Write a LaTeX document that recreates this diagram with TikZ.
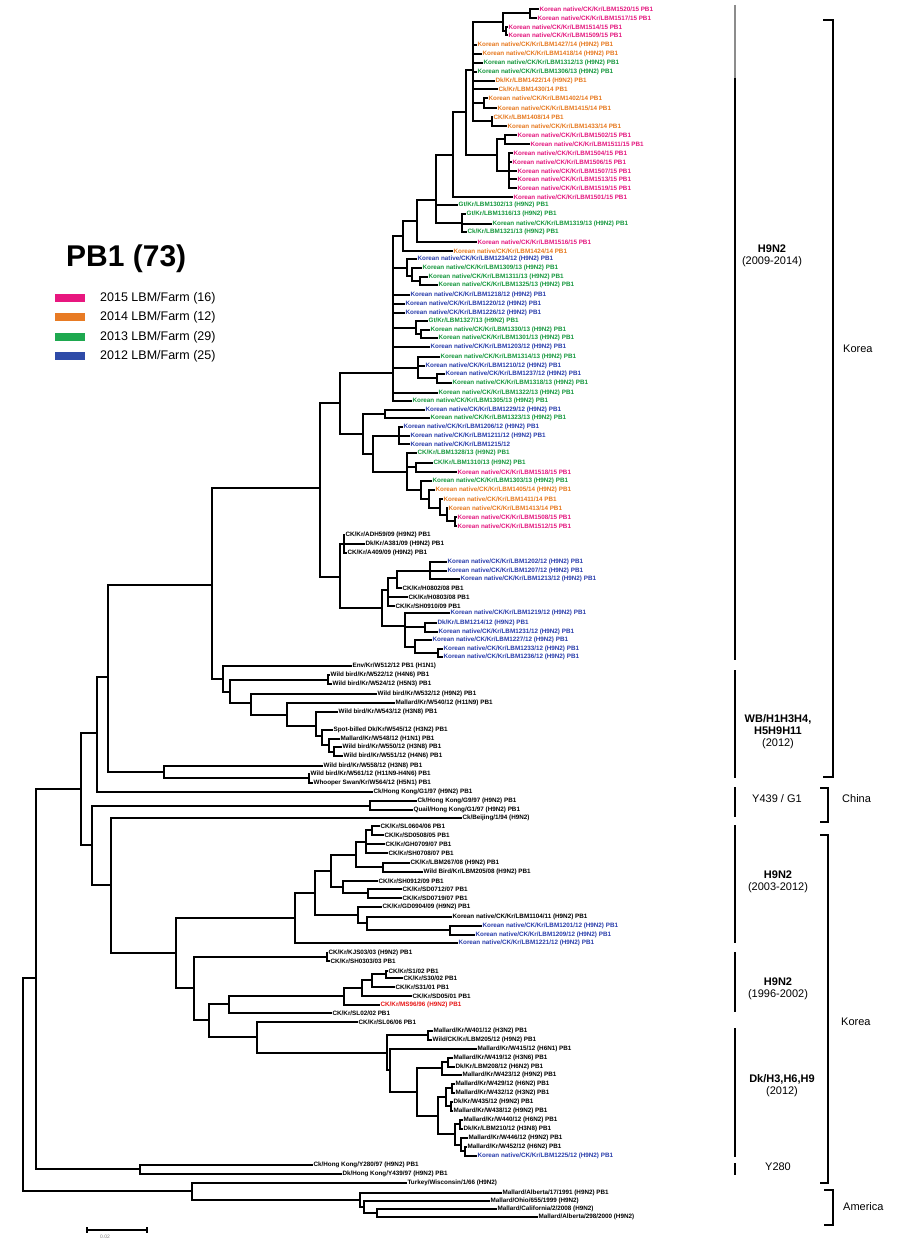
\documentclass[tikz,border=0pt]{standalone}
\usepackage{fontspec}
\setmainfont{Liberation Sans}
\definecolor{pk}{HTML}{E3177E}
\definecolor{or}{HTML}{E6781E}
\definecolor{gn}{HTML}{14963C}
\definecolor{bl}{HTML}{283CAA}
\definecolor{rd}{HTML}{E61414}
\definecolor{k}{HTML}{000000}
\definecolor{lpk}{HTML}{E8177F}
\definecolor{lor}{HTML}{E87B24}
\definecolor{lgn}{HTML}{1EA84F}
\definecolor{lbl}{HTML}{2E4BA8}
\tikzset{
  br/.style={line width=1.7pt},
  leaf/.style={anchor=west, inner sep=0.4pt, font=\fontsize{6.3}{6.5}\selectfont\bfseries},
  bar/.style={line width=1.6pt},
  brk/.style={line width=1.4pt},
  cladetxt/.style={align=center, font=\fontsize{11}{12}\selectfont, inner sep=0},
  regtxt/.style={anchor=west, font=\fontsize{11}{12}\selectfont, inner sep=0},
  lgbox/.style={minimum width=30pt, minimum height=8pt, inner sep=0, draw=none},
  lgtxt/.style={anchor=west, font=\fontsize{12.5}{13}\selectfont, inner sep=0},
}
\newcommand\lf[4]{\node[leaf,text=#3] (l#2) at (#1,#2) {#4};}
\newcommand\nd[3]{\coordinate (#1) at (#2,#3);}
\newcommand\cl[2]{\foreach \cc in {#2}{\draw[br] (#1) |- (\cc);}}
\newcommand\KN[2]{Korean native/CK/Kr/LBM#1/#2 (H9N2) PB1}
\newcommand\KP[1]{Korean native/CK/Kr/LBM#1/15 PB1}
\begin{document}
\begin{tikzpicture}[x=1pt,y=-1pt]
\useasboundingbox (0,0) rectangle (909,1249);
% ---------------- legend
\node[anchor=west,font=\fontsize{30}{32}\selectfont\bfseries,inner sep=0] (title) at (66,259) {PB1 (73)};
\node[lgbox,fill=lpk] (b15) at (70,298) {};
\node[lgbox,fill=lor] (b14) at (70,317) {};
\node[lgbox,fill=lgn] (b13) at (70,337) {};
\node[lgbox,fill=lbl] (b12) at (70,356) {};
\node[lgtxt] (t15) at (100,298) {2015 LBM/Farm (16)};
\node[lgtxt] (t14) at (100,317) {2014 LBM/Farm (12)};
\node[lgtxt] (t13) at (100,337) {2013 LBM/Farm (29)};
\node[lgtxt] (t12) at (100,356) {2012 LBM/Farm (25)};
% ---------------- leaves
\lf{539}{9}{pk}{\KP{1520}}
\lf{537}{18}{pk}{\KP{1517}}
\lf{508}{27}{pk}{\KP{1514}}
\lf{508}{35}{pk}{\KP{1509}}
\lf{477}{45}{or}{\KN{1427}{14}}
\lf{482}{54}{or}{\KN{1418}{14}}
\lf{483}{63}{gn}{\KN{1312}{13}}
\lf{477}{72}{gn}{\KN{1306}{13}}
\lf{495}{81}{or}{Dk/Kr/LBM1422/14 (H9N2) PB1}
\lf{498}{89}{or}{Ck/Kr/LBM1430/14 PB1}
\lf{488}{98}{or}{Korean native/CK/Kr/LBM1402/14 PB1}
\lf{497}{108}{or}{Korean native/CK/Kr/LBM1415/14 PB1}
\lf{493}{117}{or}{CK/Kr/LBM1408/14 PB1}
\lf{507}{126}{or}{Korean native/CK/Kr/LBM1433/14 PB1}
\lf{517}{135}{pk}{\KP{1502}}
\lf{530}{144}{pk}{\KP{1511}}
\lf{513}{153}{pk}{\KP{1504}}
\lf{512}{162}{pk}{\KP{1506}}
\lf{517}{171}{pk}{\KP{1507}}
\lf{517}{179}{pk}{\KP{1513}}
\lf{517}{188}{pk}{\KP{1519}}
\lf{513}{197}{pk}{\KP{1501}}
\lf{458}{205}{gn}{Gt/Kr/LBM1302/13 (H9N2) PB1}
\lf{466}{214}{gn}{Gt/Kr/LBM1316/13 (H9N2) PB1}
\lf{492}{224}{gn}{\KN{1319}{13}}
\lf{467}{232}{gn}{Ck/Kr/LBM1321/13 (H9N2) PB1}
\lf{477}{242}{pk}{Korean native/CK/Kr/LBM1516/15 PB1}
\lf{453}{251}{or}{Korean native/CK/Kr/LBM1424/14 PB1}
\lf{417}{259}{bl}{\KN{1234}{12}}
\lf{422}{268}{gn}{\KN{1309}{13}}
\lf{428}{277}{gn}{\KN{1311}{13}}
\lf{438}{285}{gn}{\KN{1325}{13}}
\lf{410}{295}{bl}{\KN{1218}{12}}
\lf{405}{304}{bl}{\KN{1220}{12}}
\lf{405}{313}{bl}{\KN{1226}{12}}
\lf{428}{321}{gn}{Gt/Kr/LBM1327/13 (H9N2) PB1}
\lf{430}{330}{gn}{\KN{1330}{13}}
\lf{438}{338}{gn}{\KN{1301}{13}}
\lf{430}{347}{bl}{\KN{1203}{12}}
\lf{440}{357}{gn}{\KN{1314}{13}}
\lf{425}{366}{bl}{\KN{1210}{12}}
\lf{445}{374}{bl}{\KN{1237}{12}}
\lf{452}{383}{gn}{\KN{1318}{13}}
\lf{438}{393}{gn}{\KN{1322}{13}}
\lf{412}{401}{gn}{\KN{1305}{13}}
\lf{425}{410}{bl}{\KN{1229}{12}}
\lf{430}{418}{gn}{\KN{1323}{13}}
\lf{403}{427}{bl}{\KN{1206}{12}}
\lf{410}{436}{bl}{\KN{1211}{12}}
\lf{410}{444}{bl}{Korean native/CK/Kr/LBM1215/12}
\lf{417}{453}{gn}{CK/Kr/LBM1328/13 (H9N2) PB1}
\lf{433}{463}{gn}{CK/Kr/LBM1310/13 (H9N2) PB1}
\lf{457}{472}{pk}{\KP{1518}}
\lf{432}{481}{gn}{\KN{1303}{13}}
\lf{435}{490}{or}{\KN{1405}{14}}
\lf{443}{499}{or}{Korean native/CK/Kr/LBM1411/14 PB1}
\lf{448}{508}{or}{Korean native/CK/Kr/LBM1413/14 PB1}
\lf{457}{517}{pk}{\KP{1508}}
\lf{457}{526}{pk}{\KP{1512}}
\lf{345}{535}{k}{CK/Kr/ADH59/09 (H9N2) PB1}
\lf{365}{544}{k}{Dk/Kr/A381/09 (H9N2) PB1}
\lf{347}{553}{k}{CK/Kr/A409/09 (H9N2) PB1}
\lf{447}{562}{bl}{\KN{1202}{12}}
\lf{447}{571}{bl}{\KN{1207}{12}}
\lf{460}{579}{bl}{\KN{1213}{12}}
\lf{402}{588}{k}{CK/Kr/H0802/08 PB1}
\lf{408}{597}{k}{CK/Kr/H0803/08 PB1}
\lf{395}{606}{k}{CK/Kr/SH0910/09 PB1}
\lf{450}{613}{bl}{\KN{1219}{12}}
\lf{437}{623}{bl}{Dk/Kr/LBM1214/12 (H9N2) PB1}
\lf{438}{632}{bl}{\KN{1231}{12}}
\lf{432}{640}{bl}{\KN{1227}{12}}
\lf{443}{649}{bl}{\KN{1233}{12}}
\lf{443}{657}{bl}{\KN{1236}{12}}
\lf{352}{666}{k}{Env/Kr/W512/12 PB1 (H1N1)}
\lf{330}{675}{k}{Wild bird/Kr/W522/12 (H4N6) PB1}
\lf{332}{684}{k}{Wild bird/Kr/W524/12 (H5N3) PB1}
\lf{377}{694}{k}{Wild bird/Kr/W532/12 (H9N2) PB1}
\lf{395}{703}{k}{Mallard/Kr/W540/12 (H11N9) PB1}
\lf{338}{712}{k}{Wild bird/Kr/W543/12 (H3N8) PB1}
\lf{333}{730}{k}{Spot-billed Dk/Kr/W545/12 (H3N2) PB1}
\lf{340}{739}{k}{Mallard/Kr/W548/12 (H1N1) PB1}
\lf{342}{747}{k}{Wild bird/Kr/W550/12 (H3N8) PB1}
\lf{343}{756}{k}{Wild bird/Kr/W551/12 (H4N6) PB1}
\lf{323}{766}{k}{Wild bird/Kr/W558/12 (H3N8) PB1}
\lf{310}{774}{k}{Wild bird/Kr/W561/12 (H11N9-H4N6) PB1}
\lf{313}{783}{k}{Whooper Swan/Kr/W564/12 (H5N1) PB1}
\lf{373}{792}{k}{Ck/Hong Kong/G1/97 (H9N2) PB1}
\lf{417}{801}{k}{Ck/Hong Kong/G9/97 (H9N2) PB1}
\lf{413}{810}{k}{Quail/Hong Kong/G1/97 (H9N2) PB1}
\lf{462}{818}{k}{Ck/Beijing/1/94 (H9N2)}
\lf{380}{826}{k}{CK/Kr/SL0604/06 PB1}
\lf{384}{835}{k}{CK/Kr/SD0508/05 PB1}
\lf{385}{844}{k}{CK/Kr/GH0709/07 PB1}
\lf{388}{853}{k}{CK/Kr/SH0708/07 PB1}
\lf{410}{863}{k}{CK/Kr/LBM267/08 (H9N2) PB1}
\lf{423}{872}{k}{Wild Bird/Kr/LBM205/08 (H9N2) PB1}
\lf{378}{881}{k}{CK/Kr/SH0912/09 PB1}
\lf{402}{889}{k}{CK/Kr/SD0712/07 PB1}
\lf{402}{898}{k}{CK/Kr/SD0719/07 PB1}
\lf{382}{907}{k}{CK/Kr/GD0904/09 (H9N2) PB1}
\lf{452}{917}{k}{Korean native/CK/Kr/LBM1104/11 (H9N2) PB1}
\lf{482}{926}{bl}{\KN{1201}{12}}
\lf{475}{935}{bl}{\KN{1209}{12}}
\lf{458}{943}{bl}{\KN{1221}{12}}
\lf{328}{953}{k}{CK/Kr/KJS03/03 (H9N2) PB1}
\lf{330}{961}{k}{CK/Kr/SH0303/03 PB1}
\lf{388}{971}{k}{CK/Kr/S1/02 PB1}
\lf{403}{978}{k}{CK/Kr/S30/02 PB1}
\lf{395}{987}{k}{CK/Kr/S31/01 PB1}
\lf{412}{996}{k}{CK/Kr/SD05/01 PB1}
\lf{380}{1005}{rd}{CK/Kr/MS96/96 (H9N2) PB1}
\lf{332}{1013}{k}{CK/Kr/SL02/02 PB1}
\lf{358}{1022}{k}{CK/Kr/SL06/06 PB1}
\lf{433}{1031}{k}{Mallard/Kr/W401/12 (H3N2) PB1}
\lf{432}{1040}{k}{Wild/CK/Kr/LBM205/12 (H9N2) PB1}
\lf{477}{1049}{k}{Mallard/Kr/W415/12 (H6N1) PB1}
\lf{453}{1058}{k}{Mallard/Kr/W419/12 (H3N6) PB1}
\lf{455}{1067}{k}{Dk/Kr/LBM208/12 (H6N2) PB1}
\lf{462}{1075}{k}{Mallard/Kr/W423/12 (H9N2) PB1}
\lf{455}{1084}{k}{Mallard/Kr/W429/12 (H6N2) PB1}
\lf{455}{1093}{k}{Mallard/Kr/W432/12 (H3N2) PB1}
\lf{453}{1102}{k}{Dk/Kr/W435/12 (H9N2) PB1}
\lf{453}{1111}{k}{Mallard/Kr/W438/12 (H9N2) PB1}
\lf{463}{1120}{k}{Mallard/Kr/W440/12 (H6N2) PB1}
\lf{463}{1129}{k}{Dk/Kr/LBM210/12 (H3N8) PB1}
\lf{468}{1138}{k}{Mallard/Kr/W446/12 (H9N2) PB1}
\lf{467}{1147}{k}{Mallard/Kr/W452/12 (H6N2) PB1}
\lf{477}{1156}{bl}{\KN{1225}{12}}
\lf{313}{1165}{k}{Ck/Hong Kong/Y280/97 (H9N2) PB1}
\lf{342}{1174}{k}{Dk/Hong Kong/Y439/97 (H9N2) PB1}
\lf{407}{1183}{k}{Turkey/Wisconsin/1/66 (H9N2)}
\lf{502}{1193}{k}{Mallard/Alberta/17/1991 (H9N2) PB1}
\lf{490}{1201}{k}{Mallard/Ohio/655/1999 (H9N2)}
\lf{497}{1209}{k}{Mallard/California/2/2008 (H9N2)}
\lf{538}{1217}{k}{Mallard/Alberta/298/2000 (H9N2)}
% ---------------- internal nodes and branches
\nd{Na2}{530}{13} \cl{Na2}{l9,l18}
\nd{Na3}{506}{31} \cl{Na3}{l27,l35}
\nd{Na1}{503}{22} \cl{Na1}{Na2,Na3}
\nd{N98}{484}{103} \cl{N98}{l98,l108}
\nd{N117}{492}{121} \cl{N117}{l117,l126}
\nd{Nt3}{473}{70} \cl{Nt3}{Na1,l45,l54,l63,l72,l81,l89,N98,N117}
\nd{Npk1}{505}{139} \cl{Npk1}{l135,l144}
\nd{Npk2}{509}{171} \cl{Npk2}{l153,l162,l171,l179,l188}
\nd{Npk}{497}{155} \cl{Npk}{Npk1,Npk2}
\nd{Nt2}{466}{112} \cl{Nt2}{Nt3,Npk}
\nd{Ntop}{453}{155} \cl{Ntop}{Nt2,l197}
\nd{Ng}{462}{223} \cl{Ng}{l214,l224,l232}
\nd{Nu}{436}{200} \cl{Nu}{Ntop,l205,Ng}
\nd{Nc}{417}{221} \cl{Nc}{Nu,l242}
\nd{Nd}{403}{236} \cl{Nd}{Nc,l251}
\nd{Ne3}{420}{281} \cl{Ne3}{l277,l285}
\nd{Ne2}{412}{276} \cl{Ne2}{l268,Ne3}
\nd{Ne}{407}{268} \cl{Ne}{l259,Ne2}
\nd{Ng4}{421}{334} \cl{Ng4}{l330,l338}
\nd{Ng3}{416}{328} \cl{Ng3}{l321,Ng4}
\nd{Nh2}{437}{378} \cl{Nh2}{l374,l383}
\nd{Nh}{418}{368} \cl{Nh}{l357,l366,Nh2}
\nd{W}{393}{373} \cl{W}{Nd,Ne,l295,l304,l313,Ng3,l347,Nh,l393,l401}
\nd{Ni}{385}{414} \cl{Ni}{l410,l418}
\nd{Nl}{399}{436} \cl{Nl}{l427,l436,l444}
\nd{Nm7}{455}{521} \cl{Nm7}{l517,l526}
\nd{Nm6}{447}{515} \cl{Nm6}{l508,Nm7}
\nd{Nm5}{440}{508} \cl{Nm5}{l499,Nm6}
\nd{Nm4}{429}{499} \cl{Nm4}{l490,Nm5}
\nd{Nm3}{421}{490} \cl{Nm3}{l481,Nm4}
\nd{Nm2}{416}{467} \cl{Nm2}{l463,l472}
\nd{Nm}{407}{472} \cl{Nm}{l453,Nm2,Nm3}
\nd{Nk}{373}{454} \cl{Nk}{Nl,Nm}
\nd{Nj}{363}{434} \cl{Nj}{Ni,Nk}
\nd{V}{340}{403} \cl{V}{W,Nj}
\nd{BLa}{344}{544} \cl{BLa}{l535,l544,l553}
\nd{BLf}{430}{571} \cl{BLf}{l562,l571,l579}
\nd{BLe}{397}{578} \cl{BLe}{BLf,l588}
\nd{BLc}{388}{590} \cl{BLc}{BLe,l597,l606}
\nd{BLg}{425}{627} \cl{BLg}{l623,l632}
\nd{BLi}{438}{653} \cl{BLi}{l649,l657}
\nd{BLh}{415}{647} \cl{BLh}{l640,BLi}
\nd{BLd}{405}{626} \cl{BLd}{l613,BLg,BLh}
\nd{BLb}{382}{608} \cl{BLb}{BLc,BLd}
\nd{BL}{340}{577} \cl{BL}{BLa,BLb}
\nd{U}{320}{488} \cl{U}{V,BL}
\nd{WBc}{328}{680} \cl{WBc}{l675,l684}
\nd{WBh}{334}{752} \cl{WBh}{l747,l756}
\nd{WBg}{329}{745} \cl{WBg}{l739,WBh}
\nd{WBf}{322}{736} \cl{WBf}{l730,WBg}
\nd{WBe}{316}{726} \cl{WBe}{l712,WBf}
\nd{WBd}{287}{715} \cl{WBd}{l703,WBe}
\nd{WB1c}{251}{703} \cl{WB1c}{l694,WBd}
\nd{WB1b}{230}{692} \cl{WB1b}{WBc,WB1c}
\nd{WB1}{223}{679} \cl{WB1}{l666,WB1b}
\nd{R6}{212}{585} \cl{R6}{U,WB1}
\nd{WBx}{309}{778} \cl{WBx}{l774,l783}
\nd{WB2}{164}{772} \cl{WB2}{l766,WBx}
\nd{R5}{108}{677} \cl{R5}{R6,WB2}
\nd{R3}{97}{733} \cl{R3}{R5,l792}
\nd{CH}{370}{806} \cl{CH}{l801,l810}
\nd{K03h}{372}{830} \cl{K03h}{l826,l835}
\nd{K03f}{366}{842} \cl{K03f}{K03h,l844,l853}
\nd{K03g}{383}{867} \cl{K03g}{l863,l872}
\nd{K03d}{356}{855} \cl{K03d}{K03f,K03g}
\nd{K03i}{368}{893} \cl{K03i}{l889,l898}
\nd{K03e}{343}{887} \cl{K03e}{l881,K03i}
\nd{K03b}{331}{871} \cl{K03b}{K03d,K03e}
\nd{K03k}{450}{930} \cl{K03k}{l926,l935}
\nd{K03j}{367}{923} \cl{K03j}{l917,K03k}
\nd{K03c}{358}{915} \cl{K03c}{l907,K03j}
\nd{K03a}{315}{893} \cl{K03a}{K03b,K03c}
\nd{K03}{295}{918} \cl{K03}{K03a,l943}
\nd{K96a}{327}{957} \cl{K96a}{l953,l961}
\nd{K96e}{386}{974} \cl{K96e}{l971,l978}
\nd{K96d}{372}{980} \cl{K96d}{K96e,l987}
\nd{K96c}{362}{988} \cl{K96c}{K96d,l996}
\nd{K96b}{344}{996} \cl{K96b}{K96c,l1005}
\nd{K96}{229}{1004} \cl{K96}{K96b,l1013}
\nd{DkA}{428}{1035} \cl{DkA}{l1031,l1040}
\nd{DkD1}{448}{1062} \cl{DkD1}{l1058,l1067}
\nd{DkD}{442}{1068} \cl{DkD}{DkD1,l1075}
\nd{DkF1}{452}{1088} \cl{DkF1}{l1084,l1093}
\nd{DkF2}{451}{1106} \cl{DkF2}{l1102,l1111}
\nd{DkF}{446}{1097} \cl{DkF}{DkF1,DkF2}
\nd{DkG1}{460}{1124} \cl{DkG1}{l1120,l1129}
\nd{DkG3}{465}{1151} \cl{DkG3}{l1147,l1156}
\nd{DkG2}{461}{1145} \cl{DkG2}{l1138,DkG3}
\nd{DkG}{455}{1134} \cl{DkG}{DkG1,DkG2}
\nd{DkE}{438}{1116} \cl{DkE}{DkF,DkG}
\nd{DkC}{417}{1092} \cl{DkC}{DkD,DkE}
\nd{DkB}{390}{1070} \cl{DkB}{l1049,DkC}
\nd{Dk}{387}{1053} \cl{Dk}{DkA,DkB}
\nd{R11}{257}{1037} \cl{R11}{l1022,Dk}
\nd{R10}{209}{1020} \cl{R10}{K96,R11}
\nd{R9}{194}{988} \cl{R9}{K96a,R10}
\nd{R8}{176}{953} \cl{R8}{K03,R9}
\nd{R7}{111}{885} \cl{R7}{l818,R8}
\nd{R4}{92}{845} \cl{R4}{CH,R7}
\nd{R2}{81}{789} \cl{R2}{R3,R4}
\nd{Y280}{140}{1169} \cl{Y280}{l1165,l1174}
\nd{R1}{36}{978} \cl{R1}{R2,Y280}
\nd{Am3}{377}{1213} \cl{Am3}{l1209,l1217}
\nd{Am2}{364}{1207} \cl{Am2}{l1201,Am3}
\nd{Am1}{360}{1200} \cl{Am1}{l1193,Am2}
\nd{Am}{192}{1191} \cl{Am}{l1183,Am1}
\nd{R0}{23}{1084} \cl{R0}{R1,Am}
% ---------------- scale bar
\draw[line width=1.4pt] (87,1230) -- (147,1230);
\draw[line width=1.2pt] (87,1227) -- (87,1233) (147,1227) -- (147,1233);
\node[font=\fontsize{5}{5}\selectfont, text=gray, inner sep=0] (sc) at (105,1237) {0.02};
% ---------------- clade bars
\draw[bar,black!45] (735,5) -- (735,78);
\draw[bar] (735,78) -- (735,660);
\draw[bar] (735,670) -- (735,778);
\draw[bar] (735,787) -- (735,817);
\draw[bar] (735,825) -- (735,943);
\draw[bar] (735,952) -- (735,1012);
\draw[bar] (735,1028) -- (735,1157);
\draw[bar] (735,1163) -- (735,1175);
\node[cladetxt] (c1) at (772,256) {\textbf{H9N2}\\(2009-2014)};
\node[cladetxt] (c2) at (778,732) {\textbf{WB/H1H3H4,}\\\textbf{H5H9H11}\\(2012)};
\node[cladetxt] (c3) at (777,799) {Y439 / G1};
\node[cladetxt] (c4) at (778,882) {\textbf{H9N2}\\(2003-2012)};
\node[cladetxt] (c5) at (778,989) {\textbf{H9N2}\\(1996-2002)};
\node[cladetxt] (c6) at (782,1086) {\textbf{Dk/H3,H6,H9}\\(2012)};
\node[cladetxt] (c7) at (778,1167) {Y280};
% ---------------- region brackets
\draw[brk] (823,20) -- (833,20) -- (833,777) -- (823,777);
\draw[brk] (820,788) -- (828,788) -- (828,822) -- (820,822);
\draw[brk] (820,835) -- (828,835) -- (828,1183) -- (820,1183);
\draw[brk] (824,1190) -- (833,1190) -- (833,1225) -- (824,1225);
\node[regtxt] (g1) at (843,349) {Korea};
\node[regtxt] (g2) at (842,799) {China};
\node[regtxt] (g3) at (841,1022) {Korea};
\node[regtxt] (g4) at (843,1207) {America};
\end{tikzpicture}
\end{document}
